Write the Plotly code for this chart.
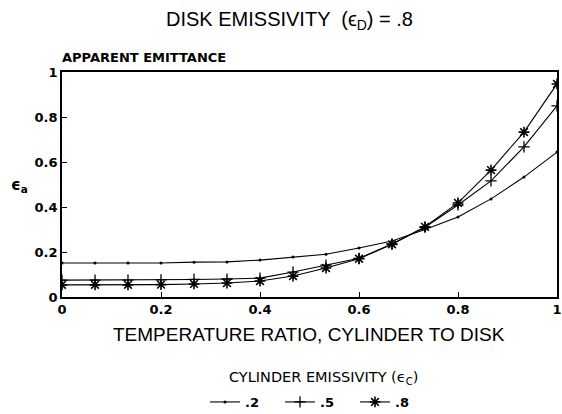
import plotly.graph_objects as go

temp_ratio = [0, 0.0667, 0.1333, 0.2, 0.2667, 0.3333, 0.4, 0.4667, 0.5333, 0.6, 0.6667, 0.7333, 0.8, 0.8667, 0.9333, 1.0]
eps_c_02 = [0.151, 0.151, 0.151, 0.151, 0.155, 0.156, 0.164, 0.178, 0.19, 0.218, 0.249, 0.30, 0.356, 0.436, 0.533, 0.644]
eps_c_05 = [0.075, 0.075, 0.075, 0.076, 0.078, 0.08, 0.084, 0.111, 0.142, 0.172, 0.236, 0.31, 0.409, 0.516, 0.667, 0.849]
eps_c_08 = [0.054, 0.054, 0.054, 0.055, 0.058, 0.062, 0.071, 0.093, 0.129, 0.17, 0.234, 0.312, 0.418, 0.564, 0.733, 0.947]
series_names = [".2", ".5", ".8"]

x_ticks = [0, 0.2, 0.4, 0.6, 0.8, 1]
x_tick_text = ["0", "0.2", "0.4", "0.6", "0.8", "1"]
y_ticks = [0, 0.2, 0.4, 0.6, 0.8, 1]
y_tick_text = ["0", "0.2", "0.4", "0.6", "0.8", "1"]

FONT = "Liberation Sans, Arial, sans-serif"
WIDE = "DejaVu Sans, sans-serif"

fig = go.Figure()
styles = [
    dict(symbol="circle", size=3),
    dict(symbol="cross-thin", size=8, line=dict(width=1.3, color="black")),
    dict(symbol="asterisk", size=9, line=dict(width=1.6, color="black")),
]
for name, ys, st in zip(series_names, [eps_c_02, eps_c_05, eps_c_08], styles):
    fig.add_trace(go.Scatter(
        x=temp_ratio, y=ys, mode="lines+markers", name=name,
        line=dict(color="black", width=1.1),
        marker=dict(color="black", **st),
    ))

axis_common = dict(
    showgrid=False, zeroline=False, showline=True, linecolor="black", linewidth=1.6,
    mirror=True, ticks="inside", tickcolor="black", ticklen=5, tickwidth=1,
    tickfont=dict(family=WIDE, size=13, color="black", weight="bold"),
)
fig.update_xaxes(range=[0, 1], tickvals=x_ticks, ticktext=x_tick_text, **axis_common)
fig.update_yaxes(range=[0, 1], tickvals=y_ticks, ticktext=y_tick_text, **axis_common)

fig.update_layout(
    width=562, height=414,
    margin=dict(l=62, r=5, t=72, b=117, autoexpand=False),
    paper_bgcolor="white", plot_bgcolor="white",
    font=dict(family=FONT, color="black"),
    showlegend=True,
    legend=dict(
        orientation="h", x=(205 - 62) / 495, xanchor="left", y=-(402 - 297) / 225, yanchor="middle",
        font=dict(family=WIDE, size=13, color="black", weight="bold"),
        entrywidth=30, entrywidthmode="pixels", itemwidth=30,
        bgcolor="rgba(0,0,0,0)",
    ),
    annotations=[
        dict(text="DISK EMISSIVITY  (ϵ<sub>D</sub>) = .8", xref="paper", yref="paper",
             x=(289 - 62) / 495, y=1 + (72 - 20) / 225, xanchor="center", yanchor="middle",
             showarrow=False, font=dict(family=FONT, size=20, color="black")),
        dict(text="APPARENT EMITTANCE", xref="paper", yref="paper",
             x=-2 / 495, y=1 + (72 - 57) / 225, xanchor="left", yanchor="middle",
             showarrow=False, font=dict(family=WIDE, size=13, color="black", weight="bold")),
        dict(text="ϵ<sub>a</sub>", xref="paper", yref="paper",
             x=-(62 - 19) / 495, y=(297 - 185) / 225, xanchor="center", yanchor="middle",
             showarrow=False, font=dict(family=WIDE, size=15, color="black", weight="bold")),
        dict(text="TEMPERATURE RATIO, CYLINDER TO DISK", xref="paper", yref="paper",
             x=(309 - 62) / 495, y=-(334 - 297) / 225, xanchor="center", yanchor="middle",
             showarrow=False, font=dict(family=FONT, size=19, color="black")),
        dict(text="CYLINDER EMISSIVITY (ϵ<sub>C</sub>)", xref="paper", yref="paper",
             x=(323 - 62) / 495, y=-(378 - 297) / 225, xanchor="center", yanchor="middle",
             showarrow=False, font=dict(family=WIDE, size=14.5, color="black")),
    ],
)

fig.write_html("out.html", config={"displayModeBar": False},
               post_script="document.body.style.margin='0';")
